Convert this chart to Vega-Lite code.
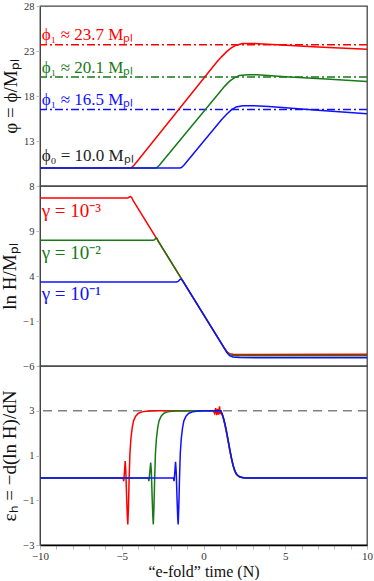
{
  "$schema": "https://vega.github.io/schema/vega-lite/v6.json",
  "padding": {"left": 0, "top": 0, "right": 1, "bottom": 0},
  "spacing": 0,
  "bounds": "flush",
  "config": {
    "font": "Liberation Serif",
    "view": {"stroke": "#444", "strokeWidth": 1.3},
    "axis": {
      "labelFont": "Liberation Serif", "labelFontSize": 10.5, "labelColor": "#333",
      "titleFont": "Liberation Serif", "titleFontSize": 19, "titleFontWeight": "normal", "titleColor": "#111",
      "tickColor": "#bbb", "tickSize": 4, "domainColor": "#444", "grid": false, "labelFlush": false, "labelOverlap": false
    },
    "text": {"font": "Liberation Serif"}
  },
  "datasets": {
    "phi": [
      {"s": "γ=10⁻³", "x": -10, "y": 10}, {"s": "γ=10⁻³", "x": -4.5, "y": 10}, {"s": "γ=10⁻³", "x": -4.4, "y": 10.05}, {"s": "γ=10⁻³", "x": -4.25, "y": 10.3}, {"s": "γ=10⁻³", "x": -4.0, "y": 10.85}, {"s": "γ=10⁻³", "x": 0.8, "y": 21.75}, {"s": "γ=10⁻³", "x": 1.1, "y": 22.35}, {"s": "γ=10⁻³", "x": 1.4, "y": 22.9}, {"s": "γ=10⁻³", "x": 1.7, "y": 23.35}, {"s": "γ=10⁻³", "x": 2.0, "y": 23.65}, {"s": "γ=10⁻³", "x": 2.4, "y": 23.82}, {"s": "γ=10⁻³", "x": 3.0, "y": 23.84}, {"s": "γ=10⁻³", "x": 4.5, "y": 23.7}, {"s": "γ=10⁻³", "x": 7.0, "y": 23.45}, {"s": "γ=10⁻³", "x": 10, "y": 23.2},
      {"s": "γ=10⁻²", "x": -10, "y": 10}, {"s": "γ=10⁻²", "x": -2.95, "y": 10}, {"s": "γ=10⁻²", "x": -2.85, "y": 10.05}, {"s": "γ=10⁻²", "x": -2.7, "y": 10.3}, {"s": "γ=10⁻²", "x": -2.5, "y": 10.75}, {"s": "γ=10⁻²", "x": 1.0, "y": 18.45}, {"s": "γ=10⁻²", "x": 1.3, "y": 19.1}, {"s": "γ=10⁻²", "x": 1.6, "y": 19.65}, {"s": "γ=10⁻²", "x": 1.9, "y": 20.05}, {"s": "γ=10⁻²", "x": 2.2, "y": 20.28}, {"s": "γ=10⁻²", "x": 2.7, "y": 20.37}, {"s": "γ=10⁻²", "x": 3.3, "y": 20.35}, {"s": "γ=10⁻²", "x": 5, "y": 20.15}, {"s": "γ=10⁻²", "x": 7.5, "y": 19.9}, {"s": "γ=10⁻²", "x": 10, "y": 19.6},
      {"s": "γ=10⁻¹", "x": -10, "y": 10}, {"s": "γ=10⁻¹", "x": -1.45, "y": 10}, {"s": "γ=10⁻¹", "x": -1.35, "y": 10.05}, {"s": "γ=10⁻¹", "x": -1.2, "y": 10.3}, {"s": "γ=10⁻¹", "x": -1.0, "y": 10.75}, {"s": "γ=10⁻¹", "x": 1.1, "y": 15.35}, {"s": "γ=10⁻¹", "x": 1.4, "y": 15.95}, {"s": "γ=10⁻¹", "x": 1.7, "y": 16.45}, {"s": "γ=10⁻¹", "x": 2.0, "y": 16.78}, {"s": "γ=10⁻¹", "x": 2.4, "y": 16.92}, {"s": "γ=10⁻¹", "x": 3.0, "y": 16.93}, {"s": "γ=10⁻¹", "x": 4.0, "y": 16.82}, {"s": "γ=10⁻¹", "x": 7.0, "y": 16.42}, {"s": "γ=10⁻¹", "x": 10, "y": 16.03}
    ],
    "phiRefs": [
      {"s": "γ=10⁻³", "y": 23.7}, {"s": "γ=10⁻²", "y": 20.1}, {"s": "γ=10⁻¹", "y": 16.5}
    ],
    "phiLabels": [
      {"s": "γ=10⁻³", "x": -9.9, "y": 24.25, "label": "ϕ₁ ≈ 23.7 Mₚₗ"},
      {"s": "γ=10⁻²", "x": -9.9, "y": 20.56, "label": "ϕ₁ ≈ 20.1 Mₚₗ"},
      {"s": "γ=10⁻¹", "x": -9.9, "y": 17.03, "label": "ϕ₁ ≈ 16.5 Mₚₗ"},
      {"s": "ϕ₀", "x": -9.9, "y": 10.74, "label": "ϕ₀ = 10.0 Mₚₗ"}
    ],
    "lnH": [
      {"s": "γ=10⁻³", "x": -10, "y": 12.67}, {"s": "γ=10⁻³", "x": -4.62, "y": 12.67}, {"s": "γ=10⁻³", "x": -4.55, "y": 12.76}, {"s": "γ=10⁻³", "x": -4.48, "y": 12.85}, {"s": "γ=10⁻³", "x": -4.4, "y": 12.72}, {"s": "γ=10⁻³", "x": -4.3, "y": 12.37}, {"s": "γ=10⁻³", "x": 1.3, "y": -4.09}, {"s": "γ=10⁻³", "x": 1.45, "y": -4.45}, {"s": "γ=10⁻³", "x": 1.6, "y": -4.63}, {"s": "γ=10⁻³", "x": 1.8, "y": -4.7}, {"s": "γ=10⁻³", "x": 2.2, "y": -4.71}, {"s": "γ=10⁻³", "x": 10, "y": -4.7},
      {"s": "γ=10⁻²", "x": -10, "y": 7.96}, {"s": "γ=10⁻²", "x": -3.1, "y": 7.96}, {"s": "γ=10⁻²", "x": -3.0, "y": 8.02}, {"s": "γ=10⁻²", "x": -2.92, "y": 8.2}, {"s": "γ=10⁻²", "x": -2.85, "y": 8.2}, {"s": "γ=10⁻²", "x": -2.78, "y": 7.9}, {"s": "γ=10⁻²", "x": 1.3, "y": -4.09}, {"s": "γ=10⁻²", "x": 1.45, "y": -4.5}, {"s": "γ=10⁻²", "x": 1.6, "y": -4.74}, {"s": "γ=10⁻²", "x": 1.8, "y": -4.84}, {"s": "γ=10⁻²", "x": 2.2, "y": -4.87}, {"s": "γ=10⁻²", "x": 10, "y": -4.86},
      {"s": "γ=10⁻¹", "x": -10, "y": 3.33}, {"s": "γ=10⁻¹", "x": -1.65, "y": 3.33}, {"s": "γ=10⁻¹", "x": -1.55, "y": 3.4}, {"s": "γ=10⁻¹", "x": -1.45, "y": 3.6}, {"s": "γ=10⁻¹", "x": -1.36, "y": 3.65}, {"s": "γ=10⁻¹", "x": -1.28, "y": 3.49}, {"s": "γ=10⁻¹", "x": 1.3, "y": -4.09}, {"s": "γ=10⁻¹", "x": 1.45, "y": -4.55}, {"s": "γ=10⁻¹", "x": 1.6, "y": -4.85}, {"s": "γ=10⁻¹", "x": 1.8, "y": -5.0}, {"s": "γ=10⁻¹", "x": 2.2, "y": -5.06}, {"s": "γ=10⁻¹", "x": 4, "y": -5.08}, {"s": "γ=10⁻¹", "x": 10, "y": -5.08}
    ],
    "lnHLabels": [
      {"s": "γ=10⁻³", "x": -9.9, "y": 10.56, "label": "γ = 10⁻³"},
      {"s": "γ=10⁻²", "x": -9.9, "y": 5.85, "label": "γ = 10⁻²"},
      {"s": "γ=10⁻¹", "x": -9.9, "y": 1.3, "label": "γ = 10⁻¹"}
    ],
    "eps": [
      {"s": "γ=10⁻³", "x": -10, "y": 0}, {"s": "γ=10⁻³", "x": -4.92, "y": 0}, {"s": "γ=10⁻³", "x": -4.88, "y": -0.15}, {"s": "γ=10⁻³", "x": -4.83, "y": 0.3}, {"s": "γ=10⁻³", "x": -4.79, "y": 0.75}, {"s": "γ=10⁻³", "x": -4.75, "y": 0.3}, {"s": "γ=10⁻³", "x": -4.7, "y": -0.9}, {"s": "γ=10⁻³", "x": -4.66, "y": -1.7}, {"s": "γ=10⁻³", "x": -4.63, "y": -2.08}, {"s": "γ=10⁻³", "x": -4.59, "y": -1.3}, {"s": "γ=10⁻³", "x": -4.55, "y": -0.1}, {"s": "γ=10⁻³", "x": -4.5, "y": 1.1}, {"s": "γ=10⁻³", "x": -4.44, "y": 1.75}, {"s": "γ=10⁻³", "x": -4.36, "y": 2.25}, {"s": "γ=10⁻³", "x": -4.28, "y": 2.55}, {"s": "γ=10⁻³", "x": -4.15, "y": 2.76}, {"s": "γ=10⁻³", "x": -3.98, "y": 2.89}, {"s": "γ=10⁻³", "x": -3.75, "y": 2.95}, {"s": "γ=10⁻³", "x": -3.5, "y": 2.98}, {"s": "γ=10⁻³", "x": -3.0, "y": 3.0}, {"s": "γ=10⁻³", "x": 0.6, "y": 3.0}, {"s": "γ=10⁻³", "x": 0.68, "y": 2.88}, {"s": "γ=10⁻³", "x": 0.74, "y": 3.12}, {"s": "γ=10⁻³", "x": 0.8, "y": 2.8}, {"s": "γ=10⁻³", "x": 0.86, "y": 3.08}, {"s": "γ=10⁻³", "x": 0.92, "y": 2.82}, {"s": "γ=10⁻³", "x": 0.98, "y": 3.2}, {"s": "γ=10⁻³", "x": 1.03, "y": 2.85}, {"s": "γ=10⁻³", "x": 1.08, "y": 2.95}, {"s": "γ=10⁻³", "x": 1.2, "y": 2.7}, {"s": "γ=10⁻³", "x": 1.3, "y": 2.4}, {"s": "γ=10⁻³", "x": 1.4, "y": 2.05}, {"s": "γ=10⁻³", "x": 1.5, "y": 1.65}, {"s": "γ=10⁻³", "x": 1.6, "y": 1.25}, {"s": "γ=10⁻³", "x": 1.7, "y": 0.88}, {"s": "γ=10⁻³", "x": 1.8, "y": 0.56}, {"s": "γ=10⁻³", "x": 1.9, "y": 0.32}, {"s": "γ=10⁻³", "x": 2.0, "y": 0.17}, {"s": "γ=10⁻³", "x": 2.15, "y": 0.07}, {"s": "γ=10⁻³", "x": 2.4, "y": 0.01}, {"s": "γ=10⁻³", "x": 2.6, "y": 0}, {"s": "γ=10⁻³", "x": 10, "y": 0},
      {"s": "γ=10⁻²", "x": -10, "y": 0}, {"s": "γ=10⁻²", "x": -3.38, "y": 0}, {"s": "γ=10⁻²", "x": -3.34, "y": -0.15}, {"s": "γ=10⁻²", "x": -3.28, "y": 0.3}, {"s": "γ=10⁻²", "x": -3.23, "y": 0.68}, {"s": "γ=10⁻²", "x": -3.19, "y": 0.3}, {"s": "γ=10⁻²", "x": -3.14, "y": -0.9}, {"s": "γ=10⁻²", "x": -3.1, "y": -1.7}, {"s": "γ=10⁻²", "x": -3.07, "y": -2.08}, {"s": "γ=10⁻²", "x": -3.03, "y": -1.3}, {"s": "γ=10⁻²", "x": -2.99, "y": -0.1}, {"s": "γ=10⁻²", "x": -2.94, "y": 1.1}, {"s": "γ=10⁻²", "x": -2.88, "y": 1.75}, {"s": "γ=10⁻²", "x": -2.8, "y": 2.25}, {"s": "γ=10⁻²", "x": -2.72, "y": 2.55}, {"s": "γ=10⁻²", "x": -2.59, "y": 2.76}, {"s": "γ=10⁻²", "x": -2.42, "y": 2.89}, {"s": "γ=10⁻²", "x": -2.19, "y": 2.95}, {"s": "γ=10⁻²", "x": -1.94, "y": 2.98}, {"s": "γ=10⁻²", "x": -1.5, "y": 3.0}, {"s": "γ=10⁻²", "x": 1.05, "y": 3.0}, {"s": "γ=10⁻²", "x": 1.2, "y": 2.72}, {"s": "γ=10⁻²", "x": 1.3, "y": 2.42}, {"s": "γ=10⁻²", "x": 1.4, "y": 2.07}, {"s": "γ=10⁻²", "x": 1.5, "y": 1.68}, {"s": "γ=10⁻²", "x": 1.6, "y": 1.28}, {"s": "γ=10⁻²", "x": 1.7, "y": 0.9}, {"s": "γ=10⁻²", "x": 1.8, "y": 0.58}, {"s": "γ=10⁻²", "x": 1.9, "y": 0.34}, {"s": "γ=10⁻²", "x": 2.0, "y": 0.18}, {"s": "γ=10⁻²", "x": 2.15, "y": 0.07}, {"s": "γ=10⁻²", "x": 2.4, "y": 0.01}, {"s": "γ=10⁻²", "x": 2.6, "y": 0}, {"s": "γ=10⁻²", "x": 10, "y": 0},
      {"s": "γ=10⁻¹", "x": -10, "y": 0}, {"s": "γ=10⁻¹", "x": -1.84, "y": 0}, {"s": "γ=10⁻¹", "x": -1.8, "y": -0.15}, {"s": "γ=10⁻¹", "x": -1.75, "y": 0.3}, {"s": "γ=10⁻¹", "x": -1.71, "y": 0.72}, {"s": "γ=10⁻¹", "x": -1.67, "y": 0.3}, {"s": "γ=10⁻¹", "x": -1.62, "y": -0.9}, {"s": "γ=10⁻¹", "x": -1.58, "y": -1.7}, {"s": "γ=10⁻¹", "x": -1.55, "y": -2.08}, {"s": "γ=10⁻¹", "x": -1.51, "y": -1.3}, {"s": "γ=10⁻¹", "x": -1.47, "y": -0.1}, {"s": "γ=10⁻¹", "x": -1.42, "y": 1.1}, {"s": "γ=10⁻¹", "x": -1.36, "y": 1.75}, {"s": "γ=10⁻¹", "x": -1.28, "y": 2.25}, {"s": "γ=10⁻¹", "x": -1.2, "y": 2.55}, {"s": "γ=10⁻¹", "x": -1.07, "y": 2.76}, {"s": "γ=10⁻¹", "x": -0.9, "y": 2.89}, {"s": "γ=10⁻¹", "x": -0.67, "y": 2.95}, {"s": "γ=10⁻¹", "x": -0.42, "y": 2.98}, {"s": "γ=10⁻¹", "x": 0, "y": 3.0}, {"s": "γ=10⁻¹", "x": 1.05, "y": 3.0}, {"s": "γ=10⁻¹", "x": 1.15, "y": 2.85}, {"s": "γ=10⁻¹", "x": 1.25, "y": 2.6}, {"s": "γ=10⁻¹", "x": 1.35, "y": 2.3}, {"s": "γ=10⁻¹", "x": 1.45, "y": 1.92}, {"s": "γ=10⁻¹", "x": 1.55, "y": 1.52}, {"s": "γ=10⁻¹", "x": 1.65, "y": 1.12}, {"s": "γ=10⁻¹", "x": 1.75, "y": 0.76}, {"s": "γ=10⁻¹", "x": 1.85, "y": 0.47}, {"s": "γ=10⁻¹", "x": 1.95, "y": 0.27}, {"s": "γ=10⁻¹", "x": 2.05, "y": 0.14}, {"s": "γ=10⁻¹", "x": 2.2, "y": 0.05}, {"s": "γ=10⁻¹", "x": 2.45, "y": 0.01}, {"s": "γ=10⁻¹", "x": 2.7, "y": 0}, {"s": "γ=10⁻¹", "x": 10, "y": 0}
    ],
    "epsRef": [{"y": 3}]
  },
  "vconcat": [
    {
      "width": 327, "height": 180,
      "layer": [
        {
          "data": {"name": "phiRefs"},
          "mark": {"type": "rule", "strokeDash": [8, 3, 2, 3], "strokeWidth": 1.5},
          "encoding": {
            "y": {"field": "y", "type": "quantitative", "scale": {"domain": [8, 28], "nice": false, "zero": false}},
            "color": {"field": "s", "type": "nominal", "legend": null, "scale": {"domain": ["γ=10⁻³", "γ=10⁻²", "γ=10⁻¹", "ϕ₀"], "range": ["#ff0000", "#177a17", "#1010ff", "#222222"]}}
          }
        },
        {
          "data": {"name": "phi"},
          "mark": {"type": "line", "strokeWidth": 1.5},
          "encoding": {
            "x": {"field": "x", "type": "quantitative", "scale": {"domain": [-10, 10], "nice": false}, "axis": null},
            "y": {"field": "y", "type": "quantitative", "scale": {"domain": [8, 28], "nice": false, "zero": false}, "axis": {"values": [8, 13, 18, 23, 28], "title": "φ = ϕ/Mₚₗ", "titlePadding": 3}},
            "color": {"field": "s", "type": "nominal", "legend": null}
          }
        },
        {
          "data": {"name": "phiLabels"},
          "mark": {"type": "text", "align": "left", "baseline": "alphabetic", "fontSize": 17},
          "encoding": {
            "x": {"field": "x", "type": "quantitative", "axis": null},
            "y": {"field": "y", "type": "quantitative", "scale": {"domain": [8, 28], "nice": false, "zero": false}},
            "text": {"field": "label"},
            "color": {"field": "s", "type": "nominal", "legend": null}
          }
        }
      ]
    },
    {
      "width": 327, "height": 180,
      "layer": [
        {
          "data": {"name": "lnH"},
          "mark": {"type": "line", "strokeWidth": 1.5},
          "encoding": {
            "x": {"field": "x", "type": "quantitative", "scale": {"domain": [-10, 10], "nice": false}, "axis": null},
            "y": {"field": "y", "type": "quantitative", "scale": {"domain": [-6, 14], "nice": false, "zero": false}, "axis": {"values": [-6, -1, 4, 9], "title": "ln H/Mₚₗ", "titlePadding": 3}},
            "color": {"field": "s", "type": "nominal", "legend": null}
          }
        },
        {
          "data": {"name": "lnHLabels"},
          "mark": {"type": "text", "align": "left", "baseline": "alphabetic", "fontSize": 19},
          "encoding": {
            "x": {"field": "x", "type": "quantitative", "axis": null},
            "y": {"field": "y", "type": "quantitative", "scale": {"domain": [-6, 14], "nice": false, "zero": false}},
            "text": {"field": "label"},
            "color": {"field": "s", "type": "nominal", "legend": null}
          }
        }
      ]
    },
    {
      "width": 327, "height": 179,
      "layer": [
        {
          "data": {"name": "epsRef"},
          "mark": {"type": "rule", "strokeDash": [9, 6], "strokeWidth": 1.5, "color": "#808080"},
          "encoding": {"y": {"field": "y", "type": "quantitative", "scale": {"domain": [-3, 5], "nice": false, "zero": false}}}
        },
        {
          "data": {"name": "eps"},
          "mark": {"type": "line", "strokeWidth": 1.5},
          "encoding": {
            "x": {"field": "x", "type": "quantitative", "scale": {"domain": [-10, 10], "nice": false},
                  "axis": {"values": [-10, -9, -8, -7, -6, -5, -4, -3, -2, -1, 0, 1, 2, 3, 4, 5, 6, 7, 8, 9, 10], "labelExpr": "datum.value % 5 === 0 ? datum.label : ''", "title": "“e-fold” time (N)", "titleFontSize": 16, "domainColor": "#000", "domainWidth": 1.5, "labelFontSize": 11, "labelPadding": 1, "titlePadding": 2}},
            "y": {"field": "y", "type": "quantitative", "scale": {"domain": [-3, 5], "nice": false, "zero": false}, "axis": {"values": [-3, -1, 1, 3], "title": "εₕ = −d(ln H)/dN", "titlePadding": 3}},
            "color": {"field": "s", "type": "nominal", "legend": null}
          }
        }
      ]
    }
  ]
}
